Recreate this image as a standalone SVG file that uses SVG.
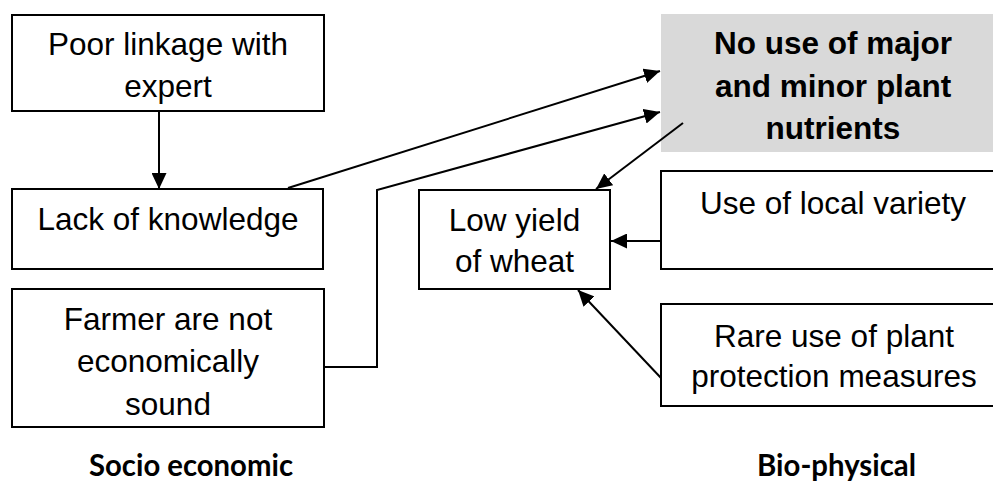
<svg xmlns="http://www.w3.org/2000/svg" width="993" height="482" viewBox="0 0 993 482">
  <style>
    .box { fill: #ffffff; stroke: #000000; stroke-width: 2; }
    .hl { fill: #d9d9d9; stroke: none; }
    .lbl { font-family: "Liberation Sans", Arial, sans-serif; font-size: 31.5px; fill: #000000; text-anchor: middle; }
    .bold { font-weight: bold; }
    .cap { font-family: Lato, "Open Sans", sans-serif; font-size: 31px; font-weight: bold; fill: #000000; text-anchor: middle; }
    .edge { fill: none; stroke: #000000; stroke-width: 2; }
  </style>
  <defs>
    <marker id="arrow" markerUnits="userSpaceOnUse" markerWidth="17" markerHeight="15" refX="16" refY="7.5" orient="auto">
      <path d="M0,0 L16,7.5 L0,15 z" fill="#000000"/>
    </marker>
  </defs>

  <rect width="993" height="482" fill="#ffffff"/>

  <!-- socio-economic causes -->
  <g id="poor-linkage">
    <rect class="box" x="12" y="15" width="312" height="96"/>
    <text class="lbl" x="168" y="55">Poor linkage with</text>
    <text class="lbl" x="168" y="97">expert</text>
  </g>
  <g id="lack-knowledge">
    <rect class="box" x="12" y="189" width="311" height="80"/>
    <text class="lbl" x="168" y="230">Lack of knowledge</text>
  </g>
  <g id="not-sound">
    <rect class="box" x="12" y="289" width="312" height="138"/>
    <text class="lbl" x="168" y="330">Farmer are not</text>
    <text class="lbl" x="168" y="372">economically</text>
    <text class="lbl" x="168" y="415">sound</text>
  </g>

  <!-- bio-physical causes -->
  <g id="nutrients">
    <rect class="hl" x="661" y="14" width="345" height="138"/>
    <text class="lbl bold" x="833" y="54">No use of major</text>
    <text class="lbl bold" x="833" y="97">and minor plant</text>
    <text class="lbl bold" x="833" y="139">nutrients</text>
  </g>
  <g id="low-yield">
    <rect class="box" x="419" y="190" width="191" height="99"/>
    <text class="lbl" x="514.5" y="231">Low yield</text>
    <text class="lbl" x="514.5" y="272">of wheat</text>
  </g>
  <g id="local-variety">
    <rect class="box" x="661" y="171" width="345" height="98"/>
    <text class="lbl" x="833" y="214">Use of local variety</text>
  </g>
  <g id="plant-protection">
    <rect class="box" x="661" y="304" width="345" height="102"/>
    <text class="lbl" x="834" y="347">Rare use of plant</text>
    <text class="lbl" x="834" y="387">protection measures</text>
  </g>

  <!-- connectors -->
  <g id="connectors">
    <line class="edge" x1="159" y1="111" x2="159" y2="189" marker-end="url(#arrow)"/>
    <line class="edge" x1="288" y1="188" x2="660" y2="71" marker-end="url(#arrow)"/>
    <polyline class="edge" points="324,367 377,367 377,190 660,112" marker-end="url(#arrow)"/>
    <line class="edge" x1="683" y1="123" x2="596" y2="189" marker-end="url(#arrow)"/>
    <line class="edge" x1="661" y1="241" x2="611" y2="241" marker-end="url(#arrow)"/>
    <line class="edge" x1="661" y1="378" x2="578" y2="290" marker-end="url(#arrow)"/>
  </g>

  <!-- group captions -->
  <g id="captions">
    <text class="cap" x="191" y="476" textLength="204" lengthAdjust="spacingAndGlyphs">Socio economic</text>
    <text class="cap" x="836.5" y="476" textLength="159" lengthAdjust="spacingAndGlyphs">Bio-physical</text>
  </g>
</svg>
